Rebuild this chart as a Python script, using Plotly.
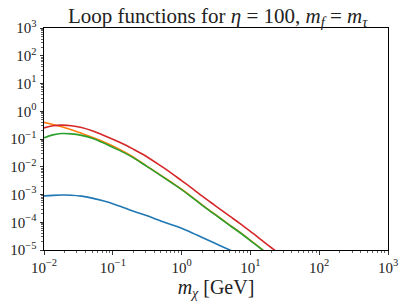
import plotly.graph_objects as go

# x grid (GeV)
m_chi = [0.01, 0.0135, 0.018, 0.025, 0.035, 0.05, 0.07, 0.1, 0.15, 0.2, 0.3, 0.5, 0.7,
         1.0, 1.5, 2.0, 3.0, 5.0, 7.0, 10.0, 15.0, 20.0, 30.0]

blue = [8.91e-4, 9.33e-4, 9.55e-4, 9.44e-4, 8.71e-4, 7.41e-4, 6.03e-4, 4.68e-4, 3.24e-4,
        2.51e-4, 1.78e-4, 1.12e-4, 8.32e-5, 6.03e-5, 3.89e-5, 2.82e-5, 1.78e-5, 1.0e-5,
        6.92e-6, None, None, None, None]
orange = [0.398, 0.331, 0.275, 0.214, 0.162, 0.115, 0.0832, 0.0562, 0.0331, 0.0219,
          0.0112, 0.0049, 0.00282, 0.00155, 7.24e-4, 4.17e-4, 2.0e-4, 7.94e-5, 4.37e-5,
          2.24e-5, 1.02e-5, 5.89e-6, 2.75e-6]
green = [0.110, 0.141, 0.158, 0.153, 0.135, 0.107, 0.0759, 0.0501, 0.0309, 0.0209,
         0.011, 0.00479, 0.00275, 0.00151, 7.08e-4, 4.07e-4, 1.95e-4, 7.76e-5, 4.27e-5,
         2.19e-5, 1.0e-5, 5.75e-6, 2.69e-6]
red = [0.251, 0.299, 0.316, 0.302, 0.260, 0.200, 0.143, 0.0977, 0.0617, 0.0427,
       0.0245, 0.0107, 0.00603, 0.00316, 0.00151, 8.71e-4, 4.17e-4, 1.66e-4, 9.12e-5,
       4.68e-5, 2.14e-5, 1.23e-5, 5.75e-6]

series = [("blue", blue, "#1f77b4"), ("orange", orange, "#ff7f0e"),
          ("green", green, "#2ca02c"), ("red", red, "#d62728")]

x_tickvals = [1e-2, 1e-1, 1e0, 1e1, 1e2, 1e3]
x_ticktext = ["10<sup>−2</sup>", "10<sup>−1</sup>", "10<sup>0</sup>", "10<sup>1</sup>",
              "10<sup>2</sup>", "10<sup>3</sup>"]
y_tickvals = [1e-5, 1e-4, 1e-3, 1e-2, 1e-1, 1e0, 1e1, 1e2, 1e3]
y_ticktext = ["10<sup>−5</sup>", "10<sup>−4</sup>", "10<sup>−3</sup>", "10<sup>−2</sup>",
              "10<sup>−1</sup>", "10<sup>0</sup>", "10<sup>1</sup>", "10<sup>2</sup>",
              "10<sup>3</sup>"]

def minor_vals(lo, hi):
    vals = []
    for e in range(lo, hi):
        for d in range(2, 10):
            vals.append(d * 10.0 ** e)
    return vals

fig = go.Figure()
for name, ys, col in series:
    fig.add_trace(go.Scatter(x=m_chi, y=ys, mode="lines", name=name,
                             line=dict(color=col, width=1.6, shape="spline", smoothing=1.0),
                             showlegend=False, hoverinfo="skip"))

FONT = "Liberation Serif"
axis_common = dict(type="log", showgrid=False, zeroline=False, showline=True,
                   linecolor="black", linewidth=1, mirror=True, ticks="outside",
                   ticklen=3.5, tickwidth=0.8, tickcolor="black", automargin=False,
                   tickfont=dict(family=FONT, size=15, color="#222"))

fig.update_xaxes(range=[-2, 3], tickmode="array", tickvals=x_tickvals, ticktext=x_ticktext,
                 minor=dict(tickmode="array", tickvals=minor_vals(-2, 3), ticks="outside",
                            ticklen=2, tickwidth=0.6, tickcolor="black", showgrid=False),
                 title=dict(text="<i>m</i><sub><i>χ</i></sub> [GeV]",
                            font=dict(family=FONT, size=20, color="#222"), standoff=2),
                 **axis_common)
fig.update_yaxes(range=[-5, 3], tickmode="array", tickvals=y_tickvals, ticktext=y_ticktext,
                 minor=dict(tickmode="array", tickvals=minor_vals(-5, 3), ticks="outside",
                            ticklen=2, tickwidth=0.6, tickcolor="black", showgrid=False),
                 **axis_common)

fig.update_layout(
    width=407, height=305,
    margin=dict(l=44, r=19, t=28, b=55),
    plot_bgcolor="white", paper_bgcolor="white",
    title=dict(text="Loop functions for <i>η</i> = 100, <i>m</i><sub><i>f</i></sub> = <i>m</i><sub><i>τ</i></sub>",
               x=0.535, xanchor="center", y=0.95, yanchor="middle",
               font=dict(family=FONT, size=21, color="#222")),
)

fig.write_html("out.html", config={"displayModeBar": False, "staticPlot": True},
               post_script="document.body.style.margin='0px';")
